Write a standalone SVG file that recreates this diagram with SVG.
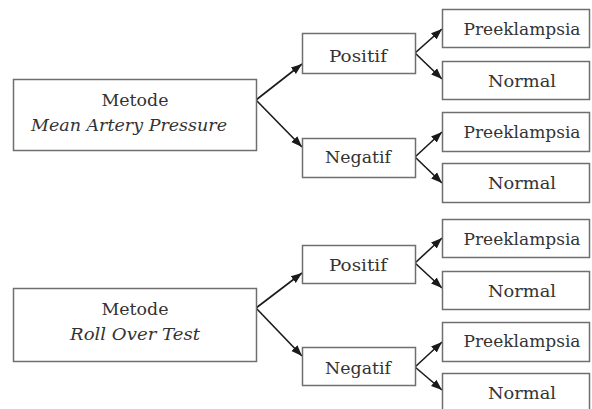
<svg xmlns="http://www.w3.org/2000/svg" width="592" height="409" viewBox="0 0 592 409">
<style>
.box{fill:#fff;stroke:#6f6f6f;stroke-width:1.5}
.t{font-family:'DejaVu Serif','Liberation Serif',serif;font-size:17.5px;fill:#333;text-anchor:middle}
.i{font-style:italic}
.c{stroke:#1a1a1a;stroke-width:1.6;fill:none;marker-end:url(#ah)}
</style>
<defs>
<marker id="ah" markerUnits="userSpaceOnUse" markerWidth="12" markerHeight="10" refX="11" refY="5" orient="auto">
<path d="M0,0.8 L11,5 L0,9.2 Z" fill="#1a1a1a"/>
</marker>
</defs>
<rect width="592" height="409" fill="#fff"/>
<g id="connectors">
<path class="c" d="M256,100 L302,64"/>
<path class="c" d="M256,100 L302,147"/>
<path class="c" d="M415,53 L442,29"/>
<path class="c" d="M415,53 L442,79"/>
<path class="c" d="M415,157 L442,132"/>
<path class="c" d="M415,157 L442,183"/>
<path class="c" d="M256,308 L302,273"/>
<path class="c" d="M256,308 L302,356"/>
<path class="c" d="M415,263 L442,238"/>
<path class="c" d="M415,263 L442,288"/>
<path class="c" d="M415,367 L442,342"/>
<path class="c" d="M415,367 L442,390"/>
</g>
<g id="map"><rect class="box" x="13.5" y="79.5" width="243" height="71"/><text class="t" x="135" y="106" textLength="67" lengthAdjust="spacingAndGlyphs">Metode</text><text class="t i" x="129" y="131" textLength="196" lengthAdjust="spacingAndGlyphs">Mean Artery Pressure</text></g>
<g id="pos1"><rect class="box" x="302.5" y="33.5" width="113" height="40"/><text class="t" x="358" y="62" textLength="58" lengthAdjust="spacingAndGlyphs">Positif</text></g>
<g id="neg1"><rect class="box" x="302.5" y="138.5" width="113" height="39"/><text class="t" x="358" y="163" textLength="66" lengthAdjust="spacingAndGlyphs">Negatif</text></g>
<g id="pre1"><rect class="box" x="442.5" y="9.5" width="147" height="38"/><text class="t" x="522" y="35" textLength="117" lengthAdjust="spacingAndGlyphs">Preeklampsia</text></g>
<g id="nor1"><rect class="box" x="442.5" y="61.5" width="147" height="38"/><text class="t" x="522" y="87" textLength="68" lengthAdjust="spacingAndGlyphs">Normal</text></g>
<g id="pre2"><rect class="box" x="442.5" y="112.5" width="147" height="39"/><text class="t" x="522" y="138" textLength="117" lengthAdjust="spacingAndGlyphs">Preeklampsia</text></g>
<g id="nor2"><rect class="box" x="442.5" y="163.5" width="147" height="39"/><text class="t" x="522" y="189" textLength="68" lengthAdjust="spacingAndGlyphs">Normal</text></g>
<g id="rot"><rect class="box" x="13.5" y="288.5" width="243" height="73"/><text class="t" x="135" y="315" textLength="67" lengthAdjust="spacingAndGlyphs">Metode</text><text class="t i" x="135" y="340" textLength="130" lengthAdjust="spacingAndGlyphs">Roll Over Test</text></g>
<g id="pos2"><rect class="box" x="302.5" y="245.5" width="113" height="38"/><text class="t" x="358" y="271" textLength="58" lengthAdjust="spacingAndGlyphs">Positif</text></g>
<g id="neg2"><rect class="box" x="302.5" y="347.5" width="113" height="38"/><text class="t" x="358" y="374" textLength="66" lengthAdjust="spacingAndGlyphs">Negatif</text></g>
<g id="pre3"><rect class="box" x="442.5" y="219.5" width="147" height="38"/><text class="t" x="522" y="245" textLength="117" lengthAdjust="spacingAndGlyphs">Preeklampsia</text></g>
<g id="nor3"><rect class="box" x="442.5" y="271.5" width="147" height="38"/><text class="t" x="522" y="297" textLength="68" lengthAdjust="spacingAndGlyphs">Normal</text></g>
<g id="pre4"><rect class="box" x="442.5" y="322.5" width="147" height="39"/><text class="t" x="522" y="347" textLength="117" lengthAdjust="spacingAndGlyphs">Preeklampsia</text></g>
<g id="nor4"><rect class="box" x="442.5" y="373.5" width="147" height="40"/><text class="t" x="522" y="399" textLength="68" lengthAdjust="spacingAndGlyphs">Normal</text></g>
</svg>
